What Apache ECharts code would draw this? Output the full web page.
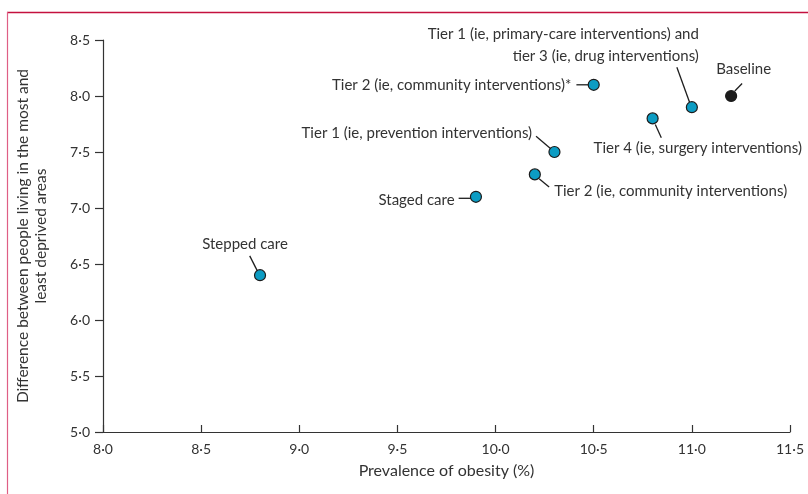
<!DOCTYPE html>
<html>
<head>
<meta charset="utf-8">
<script src="https://cdn.jsdelivr.net/npm/echarts@6/dist/echarts.min.js"></script>
<style>html,body{margin:0;padding:0;background:#fff}#c{width:808px;height:494px}</style>
</head>
<body>
<div id="c"></div>
<script>
// ---- data ----
const names = [
  'Stepped care',
  'Staged care',
  'Tier 2 (ie, community interventions)',
  'Tier 1 (ie, prevention interventions)',
  'Tier 2 (ie, community interventions)*',
  'Tier 4 (ie, surgery interventions)',
  'Tier 1 (ie, primary-care interventions) and\ntier 3 (ie, drug interventions)',
  'Baseline'
];
const obesity = [8.8, 9.9, 10.2, 10.3, 10.5, 10.8, 11.0, 11.2];
const difference = [6.4, 7.1, 7.3, 7.5, 8.1, 7.8, 7.9, 8.0];
const xTickLabels = ['8·0','8·5','9·0','9·5','10·0','10·5','11·0','11·5'];
const yTickLabels = ['5·0','5·5','6·0','6·5','7·0','7·5','8·0','8·5'];

// ---- annotation layout (pixel offsets from each point) ----
const annot = [
  {text:[-15,-31], align:'center', line:[-10.3,-19.3,-2.7,-4.3]},
  {text:[-21.3,3.5], align:'right', line:[-17.3,1.5,-5,1.5]},
  {text:[19.3,16.7], align:'left', line:[4.3,4.3,14.3,12.7]},
  {text:[-22.4,-18.4], align:'right', line:[-18.4,-15.7,-4,-3.4]},
  {text:[-22.3,0.5], align:'right', line:[-17.3,0,-5,0]},
  {text:[-59,29.4], align:'left', line:[2.7,6,8.7,19.4]},
  {text:[7,-62.5], align:'right', line:[-15,-40,-2.3,-5]},
  {text:[12.5,-26.5], align:'center', line:[11,-12.5,3.7,-5]}
];

const FONT = 'Lato';
const TXT = '#333333';
const chart = echarts.init(document.getElementById('c'), null, {renderer:'canvas'});
const pts = names.map((n,i)=>({
  name:n,
  value:[obesity[i], difference[i]],
  itemStyle:{color: n==='Baseline' ? '#1c1c1c' : '#0c9cc3'}
}));
chart.setOption({
  animation:false,
  backgroundColor:'#fff',
  grid:{left:103, right:18, top:40, bottom:62, containLabel:false},
  xAxis:{
    type:'value', min:8, max:11.5, interval:0.5,
    name:'Prevalence of obesity (%)', nameLocation:'middle', nameGap:31,
    nameTextStyle:{fontFamily:FONT, fontSize:16, color:TXT},
    axisLine:{lineStyle:{color:'#333', width:1.2}},
    axisTick:{inside:true, length:7, lineStyle:{color:'#333', width:1.2}},
    axisLabel:{fontFamily:FONT, fontSize:14, color:TXT, margin:10,
      formatter:v=>xTickLabels[Math.round((v-8)/0.5)]},
    splitLine:{show:false}
  },
  yAxis:{
    type:'value', min:5, max:8.5, interval:0.5,
    name:'Difference between people living in the most and\nleast deprived areas',
    nameLocation:'middle', nameGap:53,
    nameTextStyle:{fontFamily:FONT, fontSize:15.5, color:TXT, lineHeight:18},
    axisLine:{lineStyle:{color:'#333', width:1.2}},
    axisTick:{inside:false, length:8, lineStyle:{color:'#333', width:1.2}},
    axisLabel:{fontFamily:FONT, fontSize:14, color:TXT, margin:13,
      formatter:v=>yTickLabels[Math.round((v-5)/0.5)]},
    splitLine:{show:false}
  },
  graphic:[
    {type:'line', shape:{x1:7, y1:12.5, x2:808, y2:12.5}, style:{stroke:'#c4103f', lineWidth:1.5}, silent:true},
    {type:'line', shape:{x1:7.5, y1:12, x2:7.5, y2:494}, style:{stroke:'#df5f85', lineWidth:1.2}, silent:true}
  ],
  series:[
    {
      type:'custom',
      z:1,
      data:names.map((n,i)=>[obesity[i], difference[i]]),
      renderItem:(params, api)=>{
        const i = params.dataIndex;
        const p = api.coord([api.value(0), api.value(1)]);
        const a = annot[i];
        return {type:'group', children:[
          {type:'line', shape:{x1:p[0]+a.line[0], y1:p[1]+a.line[1], x2:p[0]+a.line[2], y2:p[1]+a.line[3]},
           style:{stroke:'#1e1e1e', lineWidth:1.3}},
          {type:'text', x:p[0]+a.text[0], y:p[1]+a.text[1],
           style:{text:names[i], textAlign:a.align, align:a.align, textVerticalAlign:'middle', verticalAlign:'middle',
                  fontFamily:FONT, fontSize:15, lineHeight:22, fill:TXT}}
        ]};
      }
    },
    {
      type:'scatter', z:3,
      symbol:'circle', symbolSize:11,
      itemStyle:{borderColor:'#1b1b1b', borderWidth:1.2, opacity:1},
      data:pts
    }
  ]
});
</script>
</body>
</html>
